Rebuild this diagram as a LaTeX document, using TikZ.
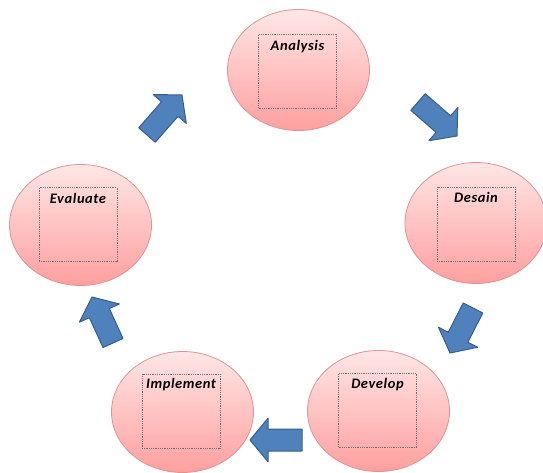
\documentclass[tikz,border=0pt]{standalone}
\usepackage{fontspec}
\setmainfont{Carlito}
\newfontfamily\labelfont[LetterSpace=4]{Carlito}
\usetikzlibrary{shapes.geometric,calc}
\definecolor{elltop}{HTML}{FFE6E6}
\definecolor{ellbot}{HTML}{FF9F9F}
\definecolor{elledge}{HTML}{D99694}
\definecolor{arrfill}{HTML}{4F81BD}
\definecolor{arredge}{HTML}{385D8A}
\definecolor{boxedge}{HTML}{707070}
\tikzset{
  phase/.style={ellipse, draw=elledge, line width=0.8pt, top color=elltop, bottom color=ellbot,
    minimum width=142pt, minimum height=121pt, inner sep=0pt},
  contentbox/.style={draw=boxedge, densely dotted, line width=0.8pt, minimum width=78pt, minimum height=74pt, inner sep=0pt},
  phaselabel/.style={font=\labelfont\fontsize{14.5}{16}\selectfont\bfseries\itshape, inner sep=0pt},
  blockarrow/.style={fill=arrfill, draw=arredge, line width=1pt, line join=round}
}
\newcommand{\blockarr}[2]{%
  \coordinate (hb) at ($(#1)!0.65!(#2)$);
  \filldraw[blockarrow]
    ($(#1)!11pt!90:(#2)$) -- ($(hb)!11pt!-90:(#1)$) -- ($(hb)!22pt!-90:(#1)$) -- (#2)
    -- ($(hb)!22pt!90:(#1)$) -- ($(hb)!11pt!90:(#1)$) -- ($(#1)!11pt!-90:(#2)$) -- cycle;
}
\begin{document}
\begin{tikzpicture}[x=1pt,y=-1pt]
\useasboundingbox (0,0) rectangle (543,473);
% phases
\node[phase] (ana) at (298.5,70) {};
\node[phase] (des) at (476,223) {};
\node[phase] (eva) at (80.5,225) {};
\node[phase] (imp) at (182.5,412) {};
\node[phase] (dev) at (378.5,411) {};
% content boxes
\node[contentbox] (rana) at (297.5,71.5) {};
\node[contentbox] (rdes) at (476,224) {};
\node[contentbox] (reva) at (78,224.5) {};
\node[contentbox] (rimp) at (181,411) {};
\node[contentbox] (rdev) at (377.5,410.5) {};
% labels
\node[phaselabel] (lana) at ($(rana.north)+(0,12)$) {Analysis};
\node[phaselabel] (ldes) at ($(rdes.north)+(0,11)$) {Desain};
\node[phaselabel] (leva) at ($(reva.north)+(0,11)$) {Evaluate};
\node[phaselabel] (limp) at ($(rimp.north)+(0,11)$) {Implement};
\node[phaselabel] (ldev) at ($(rdev.north)+(0,11)$) {Develop};
% arrow endpoints
\coordinate (a1t) at (147,135); \coordinate (a1h) at (182,95);
\coordinate (a2t) at (418,102); \coordinate (a2h) at (457,136);
\coordinate (a3t) at (473,308); \coordinate (a3h) at (450,353);
\coordinate (a4t) at (302,440); \coordinate (a4h) at (250,440);
\coordinate (a5t) at (113,343); \coordinate (a5h) at (92,297);
\blockarr{a1t}{a1h}
\blockarr{a2t}{a2h}
\blockarr{a3t}{a3h}
\blockarr{a4t}{a4h}
\blockarr{a5t}{a5h}
\end{tikzpicture}
\end{document}
